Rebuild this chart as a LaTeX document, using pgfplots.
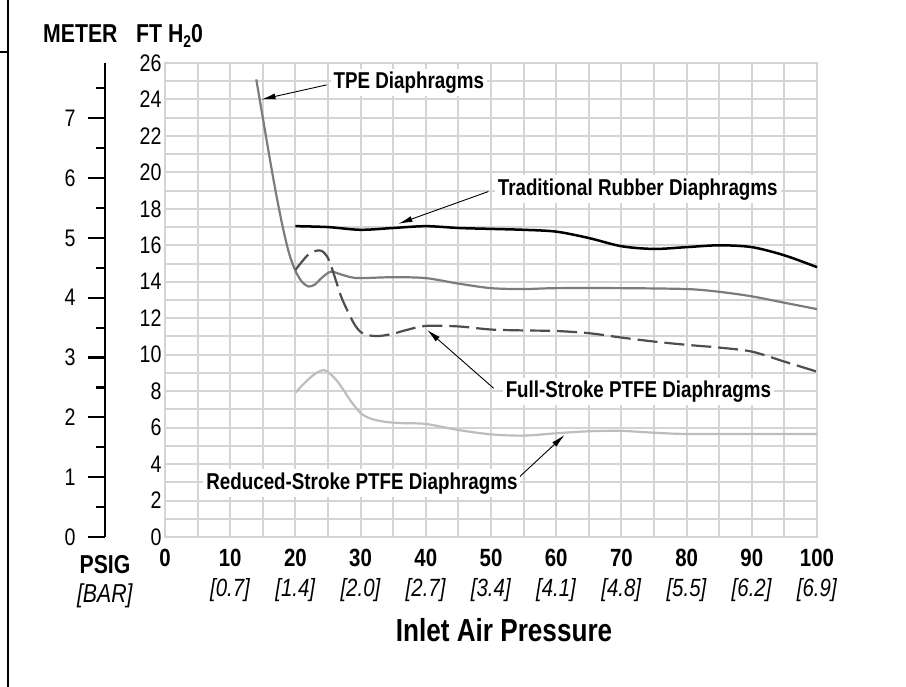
\documentclass[border=0pt]{standalone}
\usepackage{fontspec}
\setmainfont{Liberation Sans}[FakeStretch=0.82]
\usepackage{pgfplots}
\pgfplotsset{compat=1.18}
\usetikzlibrary{arrows.meta}
\definecolor{gridc}{HTML}{D4D4D4}
\definecolor{tpec}{HTML}{7C7C7C}
\definecolor{fullc}{HTML}{4D4D4D}
\definecolor{redc}{HTML}{BDBDBD}
\begin{document}
\begin{tikzpicture}
\path[use as bounding box] (0bp,0bp) rectangle (906bp,687bp);
\draw[line width=1.5bp] (8bp,0bp) -- (8bp,687bp);
\draw[line width=1.5bp] (0bp,635bp) -- (8bp,635bp);
% meter axis
\begin{axis}[at={(105bp,150bp)}, anchor=south west, scale only axis,
  width=20bp, height=474bp, xmin=0, xmax=1, ymin=0, ymax=7.9248,
  hide x axis, axis y line*=left,
  y axis line style={-, line width=2.5bp, black},
  ytick={0,...,7}, minor ytick={0.5,1.5,...,7.5},
  tick align=outside, major tick length=17bp, minor tick length=9bp,
  tick style={black, line width=2.2bp},
  yticklabel style={font=\fontsize{24}{24}\selectfont, xshift=-9bp},
  /pgf/number format/assume math mode=true]
\end{axis}
% main axis
\begin{axis}[at={(165bp,150bp)}, anchor=south west, scale only axis,
  width=652bp, height=474bp, xmin=0, xmax=100, ymin=0, ymax=26,
  clip=false,
  xtick={0,10,...,100}, minor xtick={5,15,...,95},
  ytick={0,2,...,26}, minor ytick={1,3,...,25},
  grid=both, grid style={gridc, line width=2bp},
  minor grid style={gridc, line width=2bp},
  major grid style={gridc, line width=2bp},
  axis line style={gridc, line width=2bp},
  major tick length=0pt, minor tick length=0pt,
  yticklabel style={font=\fontsize{24}{24}\selectfont},
  xticklabels={\textbf{0}, {\textbf{10}\\\textit{[0.7]}}, {\textbf{20}\\\textit{[1.4]}},
    {\textbf{30}\\\textit{[2.0]}}, {\textbf{40}\\\textit{[2.7]}}, {\textbf{50}\\\textit{[3.4]}},
    {\textbf{60}\\\textit{[4.1]}}, {\textbf{70}\\\textit{[4.8]}}, {\textbf{80}\\\textit{[5.5]}},
    {\textbf{90}\\\textit{[6.2]}}, {\textbf{100}\\\textit{[6.9]}}},
  xticklabel style={align=center, anchor=north, font=\fontsize{25}{30}\selectfont, yshift=-9bp},
  /pgf/number format/assume math mode=true]
% Traditional rubber
\addplot[black, line width=2.5bp, smooth, tension=0.5] coordinates {
(20,17.05) (25,17.0) (30,16.85) (35,16.95) (40,17.05) (45,16.95) (50,16.9)
(55,16.85) (60,16.75) (65,16.4) (70,15.95) (75,15.8) (80,15.9) (85,16.0)
(90,15.9) (95,15.45) (100,14.8)};
% TPE
\addplot[tpec, line width=2.2bp, smooth, tension=0.5] coordinates {
(14.0,25.1) (15.0,23.0) (16.0,20.9) (17.0,18.9) (18.0,17.1) (19.0,15.6)
(20.0,14.6) (21.0,14.0) (22.0,13.74) (23.0,13.85)
(24.0,14.2) (25.4,14.55) (27.0,14.4) (28.5,14.25) (30,14.2) (35,14.25)
(40,14.2) (45,13.9) (50,13.65) (55,13.6) (60,13.65) (70,13.65) (80,13.6)
(85,13.45) (90,13.2) (95,12.85) (100,12.5)};
% Full-stroke PTFE
\addplot[fullc, line width=2.2bp, smooth, tension=0.5, dash pattern=on 20bp off 7bp] coordinates {
(20,14.65) (21,15.1) (22,15.5) (23,15.68) (24,15.7) (25,15.3) (26,14.3)
(27,13.2) (28,12.4) (29,11.7) (30,11.25) (31.5,11.05) (33,11.03) (35,11.15)
(37,11.35) (40,11.58) (45,11.55) (50,11.38) (55,11.33) (60,11.3) (65,11.18)
(70,10.94) (75,10.72) (80,10.54) (85,10.39) (90,10.17) (95,9.62) (100,9.07)};
% Reduced-stroke PTFE
\addplot[redc, line width=2.2bp, smooth, tension=0.5] coordinates {
(20,7.92) (21,8.3) (22,8.65) (23,8.95) (24.2,9.15) (25,9.05) (26.3,8.6)
(27.5,8.0) (28.4,7.5) (30,6.8) (31.5,6.5) (33.5,6.33) (36,6.25) (40,6.2)
(45,5.87) (50,5.63) (55,5.56) (60,5.69) (65,5.8) (70,5.82) (75,5.72)
(80,5.65) (90,5.65) (100,5.65)};
% annotations
\draw[-{Latex[length=14bp,width=6bp]}, line width=0.9bp] (axis cs:24.8,24.8) -- (axis cs:14.8,24.0);
\node[fill=white, inner sep=3bp, font=\bfseries\fontsize{23}{23}\selectfont] at (axis cs:37.4,24.92) {TPE Diaphragms};
\draw[-{Latex[length=14bp,width=6bp]}, line width=0.9bp] (axis cs:49.6,18.95) -- (axis cs:35.8,17.18);
\node[fill=white, inner sep=3bp, font=\bfseries\fontsize{23}{23}\selectfont] at (axis cs:72.5,19.08) {Traditional Rubber Diaphragms};
\draw[-{Latex[length=14bp,width=6bp]}, line width=0.9bp] (axis cs:50.4,8.16) -- (axis cs:40.2,11.36);
\node[fill=white, inner sep=3bp, font=\bfseries\fontsize{23}{23}\selectfont] at (axis cs:72.6,7.98) {Full-Stroke PTFE Diaphragms};
\draw[-{Latex[length=14bp,width=6bp]}, line width=0.9bp] (axis cs:54.4,3.31) -- (axis cs:61.3,5.6);
\node[fill=white, inner sep=3bp, font=\bfseries\fontsize{23}{23}\selectfont] at (axis cs:30.2,2.95) {Reduced-Stroke PTFE Diaphragms};
\end{axis}
\node[anchor=base west, inner sep=0pt, font=\bfseries\fontsize{26}{26}\selectfont] at (43bp,644bp) {METER};
\node[anchor=base west, inner sep=0pt, font=\bfseries\fontsize{26}{26}\selectfont] at (136bp,644bp) {FT H\raisebox{-5bp}{\fontsize{17}{17}\selectfont 2}0};
\node[anchor=north, align=center, inner sep=0pt, font=\fontsize{26}{29}\selectfont] at (105bp,132bp) {\textbf{PSIG}\\\textit{[BAR]}};
\node[inner sep=0pt, font=\bfseries\fontsize{32}{32}\selectfont] at (504bp,57bp) {Inlet Air Pressure};
\end{tikzpicture}
\end{document}
